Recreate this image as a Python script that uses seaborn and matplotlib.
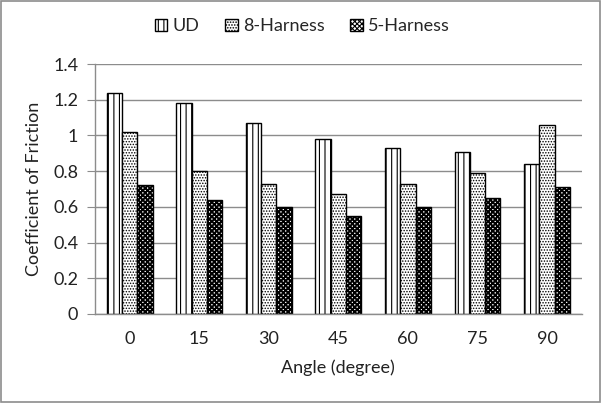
import pandas as pd
import matplotlib
matplotlib.use("Agg")
import matplotlib.pyplot as plt
import seaborn as sns

# values
angles = ["0", "15", "30", "45", "60", "75", "90"]
ud = [1.24, 1.18, 1.07, 0.98, 0.93, 0.91, 0.84]
harness8 = [1.02, 0.80, 0.73, 0.67, 0.73, 0.79, 1.06]
harness5 = [0.72, 0.64, 0.60, 0.55, 0.60, 0.65, 0.71]
series = ["UD", "8-Harness", "5-Harness"]

df = pd.DataFrame({
    "angle": angles * 3,
    "cof": ud + harness8 + harness5,
    "fabric": [s for s in series for _ in angles],
})

sns.set_style("white")
plt.rcParams["font.family"] = ["Lato", "DejaVu Sans"]
plt.rcParams["hatch.linewidth"] = 0.8

fig = plt.figure(figsize=(6.01, 4.03), dpi=100)
ax = fig.add_axes([0.158, 0.221, 0.81, 0.62])

sns.barplot(data=df, x="angle", y="cof", hue="fabric", order=angles,
            hue_order=series, width=0.66, palette=["white"] * 3,
            edgecolor="black", linewidth=1.0, ax=ax, legend=False)

hatches = ["|||", "......", "xxxxxxx"]
hatch_lw = [0.8, 0.7, 1.4]
for cont, h, hl in zip(ax.containers, hatches, hatch_lw):
    for p in cont:
        p.set_hatch(h)
        p.set_edgecolor("black")
        p.set_facecolor("white")
        try:
            p.set_hatch_linewidth(hl)
        except AttributeError:
            pass

ax.set_ylim(0, 1.4)
ax.set_xlim(-0.5, 6.5)
ax.set_yticks([0, 0.2, 0.4, 0.6, 0.8, 1.0, 1.2, 1.4])
ax.set_yticklabels(["0", "0.2", "0.4", "0.6", "0.8", "1", "1.2", "1.4"])
ax.yaxis.grid(True, color="#8c8c8c", linewidth=1.0)
ax.set_axisbelow(True)
for side in ["top", "right"]:
    ax.spines[side].set_visible(False)
for side in ["left", "bottom"]:
    ax.spines[side].set_color("#8c8c8c")
    ax.spines[side].set_linewidth(1.0)

# ticks between categories like Excel
ax.set_xticks(range(len(angles)))
ax.set_xticks([i - 0.5 for i in range(len(angles) + 1)], minor=True)
ax.tick_params(axis="x", which="major", length=0, labelsize=13, pad=12, colors="#222222")
ax.tick_params(axis="x", which="minor", length=6, color="#8c8c8c", direction="out")
ax.tick_params(axis="y", length=6, color="#8c8c8c", direction="out",
               left=True, labelsize=13, labelcolor="#222222", pad=6)

ax.set_xlabel("Angle (degree)", fontsize=13, labelpad=9, color="#222222")
ax.set_ylabel("Coefficient of Friction", fontsize=13, labelpad=8, color="#222222")

handles = [cont.patches[0] for cont in ax.containers]
fig.legend(handles, series, loc="upper center", bbox_to_anchor=(0.503, 0.995), ncol=3,
           frameon=False, fontsize=13, handlelength=0.7, handleheight=0.7,
           handletextpad=0.3, columnspacing=1.4)

# grey frame around the whole chart
fig.patches.append(plt.Rectangle((0.002, 0.003), 0.996, 0.994, transform=fig.transFigure,
                                 fill=False, edgecolor="#8c8c8c", linewidth=1.2))

fig.savefig("out.png", dpi=100)
